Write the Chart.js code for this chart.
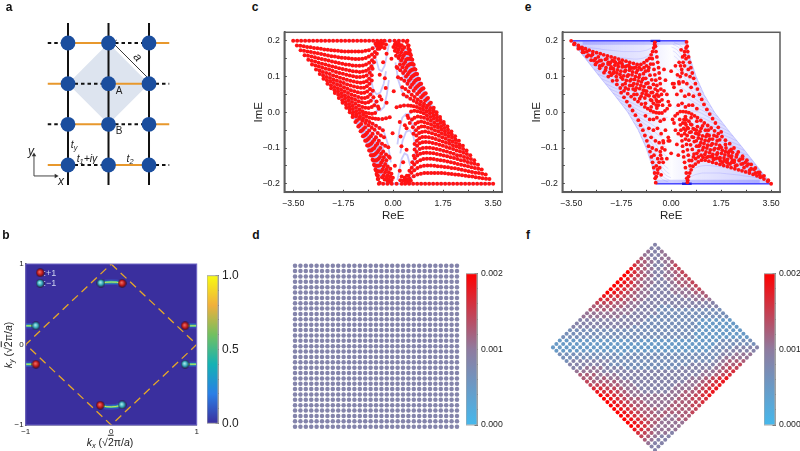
<!DOCTYPE html>
<html>
<head>
<meta charset="utf-8">
<title>Lattice spectra</title>
<script src="https://cdn.jsdelivr.net/npm/chart.js@4"></script>
<style>
  html, body { margin: 0; background: #fff; width: 800px; height: 451px; overflow: hidden; }
  #fig { position: relative; width: 800px; height: 451px; overflow: hidden; font-family: "Liberation Sans", Arial, sans-serif; color: #222; }
  #fig canvas { position: absolute; }
  .note { position: absolute; transform: translate(-50%, -50%); white-space: nowrap; line-height: 1; }
  .note sub { font-size: 70%; vertical-align: baseline; position: relative; top: 0.25em; }
  .tag { font-weight: bold; font-size: 12px; color: #111; }
  .root { text-decoration: overline; }
  i { font-style: italic; }
</style>
</head>
<body>
<div id="fig"></div>
<script>
// Panel a: lattice units
const latticeColumns = [0, 1, 2];
const latticeRows = [0, 1, 2, 3];
const verticalBondEnds = [-0.49, 3.49];
const orangeBonds = [[-0.5, 0, 0], [1, 2, 0], [0, 1, 1], [2, 2.5, 1], [-0.5, 0, 2], [1, 2, 2], [0, 1, 3], [2, 2.5, 3]];
const dashedBonds = [[0, 1, 0], [2, 2.5, 0], [-0.5, 0, 1], [1, 2, 1], [0, 1, 2], [2, 2.5, 2], [-0.5, 0, 3], [1, 2, 3]];
const cellCornersX = [1, 2, 1, 0, 1];
const cellCornersY = [3, 2, 1, 2, 3];

// Panel b
const bTicks = [-1, 0, 1];
const bTickLabels = ['\u22121', '0', '1'];
const bzX = [0, 1, 0, -1, 0];
const bzY = [1, 0, -1, 0, 1];
const arcs = [
  [-0.12, 0.763, -0.06, 0.773, 0, 0.776, 0.06, 0.774, 0.128, 0.76],
  [-0.128, -0.755, -0.06, -0.772, 0, -0.775, 0.06, -0.77, 0.128, -0.751],
  [-1, 0.232, -0.94, 0.232, -0.88, 0.232],
  [-1, -0.245, -0.94, -0.245, -0.88, -0.245],
  [0.864, 0.232, 0.93, 0.232, 1, 0.232],
  [0.864, -0.245, 0.93, -0.245, 1, -0.245]
];
const plusCharges = [-0.83, 0.892, 0.128, 0.76, -0.128, -0.755, -0.88, -0.245, 0.864, 0.232];
const minusCharges = [-0.83, 0.76, -0.12, 0.763, 0.128, -0.751, -0.88, 0.232, 0.864, -0.245];
const bBarTicks = [0, 0.1, 0.2, 0.3, 0.4, 0.5, 0.6, 0.7, 0.8, 0.9, 1];
const bBarLabels = ['0.0', '', '', '', '', '0.5', '', '', '', '', '1.0'];

// Panels c and e axes
const reTicks = [-3.5, -2.625, -1.75, -0.875, 0, 0.875, 1.75, 2.625, 3.5];
const reLabels = ['\u22123.50', '', '\u22121.75', '', '0.00', '', '1.75', '', '3.50'];
const imTicks = [-0.2, -0.15, -0.1, -0.05, 0, 0.05, 0.1, 0.15, 0.2];
const imLabels = ['\u22120.2', '', '\u22120.1', '', '0.0', '', '0.1', '', '0.2'];

// Panel c: ReE, ImE pairs along each band of the spectrum
const bandsUpper = [
  [-3.5,.2,-3.36,.2,-3.22,.2,-3.08,.2,-2.94,.2,-2.8,.2,-2.66,.2,-2.52,.2,-2.38,.2,-2.24,.2,-2.1,.2,-1.96,.2,-1.82,.2,-1.68,.2,-1.54,.2,-1.4,.2,-1.26,.2,-1.12,.2,-.98,.2,-.84,.2,-.7,.2,-.56,.2,-.42,.2,-.3,.2,-.12,.2,.05,.2,.2,.2,.35,.2,.5,.2],
  [-3.37,.187,-3.25,.186,-3.13,.185,-3.01,.183,-2.89,.182,-2.77,.18,-2.65,.179,-2.53,.178,-2.41,.176,-2.29,.175,-2.17,.174,-2.05,.173,-1.93,.172,-1.81,.171,-1.69,.17,-1.57,.17,-1.45,.17,-1.33,.17,-1.21,.17,-1.09,.17,-.97,.172,-.85,.174,-.72,.179,-.58,.186,-.45,.192],
  [-3.24,.174,-3.12,.172,-3,.17,-2.88,.169,-2.76,.167,-2.64,.165,-2.52,.163,-2.4,.161,-2.28,.159,-2.16,.157,-2.04,.156,-1.92,.154,-1.8,.153,-1.68,.152,-1.56,.151,-1.44,.15,-1.32,.149,-1.2,.149,-1.08,.15,-.96,.152,-.85,.156,-.74,.162,-.64,.169,-.54,.178,-.44,.188],
  [-3.1,.16,-2.98,.158,-2.86,.156,-2.74,.154,-2.62,.151,-2.5,.149,-2.38,.147,-2.26,.145,-2.14,.142,-2.02,.14,-1.9,.138,-1.78,.136,-1.66,.134,-1.54,.133,-1.42,.131,-1.3,.13,-1.18,.13,-1.06,.131,-.95,.134,-.84,.139,-.74,.146,-.65,.155,-.57,.164],
  [-2.97,.147,-2.85,.144,-2.73,.142,-2.61,.139,-2.49,.136,-2.37,.134,-2.25,.131,-2.13,.128,-2.01,.126,-1.89,.123,-1.77,.121,-1.65,.119,-1.53,.117,-1.41,.115,-1.29,.114,-1.17,.113,-1.06,.114,-.95,.116,-.85,.121,-.76,.129,-.67,.14],
  [-2.84,.134,-2.72,.131,-2.6,.128,-2.48,.125,-2.36,.122,-2.24,.12,-2.12,.116,-2,.113,-1.88,.11,-1.76,.108,-1.64,.105,-1.52,.103,-1.4,.101,-1.28,.099,-1.16,.099,-1.04,.1,-.93,.103,-.82,.111,-.72,.122],
  [-2.7,.12,-2.58,.117,-2.46,.113,-2.34,.11,-2.22,.107,-2.1,.103,-1.98,.1,-1.86,.097,-1.74,.094,-1.62,.091,-1.5,.088,-1.38,.086,-1.26,.084,-1.14,.083,-1.03,.084,-.93,.087,-.84,.094,-.75,.104],
  [-2.57,.107,-2.45,.103,-2.33,.099,-2.21,.096,-2.09,.092,-1.97,.088,-1.85,.085,-1.73,.082,-1.61,.078,-1.49,.075,-1.37,.072,-1.25,.07,-1.13,.069,-1.02,.069,-.92,.073,-.83,.08,-.75,.089],
  [-2.44,.094,-2.32,.09,-2.2,.086,-2.08,.082,-1.96,.078,-1.84,.074,-1.72,.07,-1.6,.066,-1.48,.062,-1.36,.059,-1.24,.056,-1.12,.054,-1.01,.055,-.91,.058,-.81,.065],
  [-2.3,.08,-2.18,.076,-2.06,.071,-1.94,.067,-1.82,.063,-1.7,.059,-1.58,.054,-1.46,.05,-1.34,.046,-1.22,.043,-1.1,.04,-.99,.04,-.89,.043,-.8,.05,-.71,.06],
  [-2.17,.067,-2.05,.062,-1.93,.058,-1.81,.053,-1.69,.048,-1.57,.043,-1.45,.039,-1.33,.035,-1.21,.031,-1.09,.028,-.98,.026,-.87,.028,-.78,.032,-.69,.042],
  [-2.04,.054,-1.92,.049,-1.8,.044,-1.68,.039,-1.56,.034,-1.44,.029,-1.32,.024,-1.2,.019,-1.08,.015,-.97,.013,-.86,.012,-.75,.015,-.66,.02,-.58,.03],
  [-1.9,.04,-1.78,.034,-1.66,.029,-1.54,.023,-1.42,.018,-1.3,.013,-1.18,.008,-1.07,.003,-.96,-.001,-.85,-.003,-.74,-.004,-.63,-.002,-.5,.01],
  [-1.77,.027,-1.65,.021,-1.53,.015,-1.41,.009,-1.29,.003,-1.17,-.002,-1.05,-.007,-.94,-.011,-.83,-.015,-.72,-.017,-.62,-.018,-.52,-.019,-.38,-.019,-.25,-.017,-.12,-.014],
  [-1.64,.013,-1.52,.007,-1.4,0,-1.28,-.006,-1.16,-.012,-1.05,-.017,-.94,-.022,-.83,-.027,-.72,-.032,-.6,-.038,-.48,-.044,-.36,-.05],
  [-1.52,0,-1.41,-.006,-1.3,-.012,-1.19,-.018,-1.08,-.024,-.97,-.03,-.86,-.036,-.75,-.043,-.65,-.049,-.54,-.058,-.43,-.065,-.32,-.07],
  [-1.42,-.013,-1.27,-.023,-1.12,-.033,-.98,-.042,-.84,-.051,-.72,-.06,-.6,-.07,-.5,-.08,-.39,-.088,-.28,-.094,-.17,-.098],
  [-1.32,-.027,-1.18,-.037,-1.04,-.047,-.91,-.057,-.78,-.067,-.66,-.077,-.55,-.088,-.45,-.1,-.35,-.11,-.25,-.118,-.15,-.124],
  [-1.22,-.04,-1.09,-.051,-.96,-.062,-.84,-.072,-.72,-.083,-.61,-.094,-.51,-.106,-.42,-.116,-.33,-.126,-.24,-.134],
  [-1.14,-.053,-1.01,-.065,-.89,-.076,-.77,-.088,-.66,-.1,-.56,-.112,-.46,-.125,-.37,-.135,-.28,-.145,-.19,-.152,-.1,-.158],
  [-1.06,-.067,-.94,-.079,-.82,-.091,-.71,-.103,-.61,-.116,-.51,-.13,-.42,-.141,-.33,-.152,-.24,-.16,-.15,-.168,-.06,-.172],
  [-.98,-.08,-.87,-.093,-.76,-.106,-.66,-.119,-.56,-.133,-.46,-.148,-.37,-.16,-.28,-.168,-.19,-.176,-.1,-.18,-.01,-.183],
  [-.91,-.093,-.8,-.107,-.7,-.12,-.6,-.135,-.51,-.15,-.42,-.166,-.33,-.176,-.24,-.183,-.15,-.187,-.06,-.19],
  [-.84,-.107,-.74,-.121,-.65,-.135,-.56,-.15,-.47,-.166,-.39,-.182,-.3,-.188,-.2,-.192,-.1,-.195],
  [-.78,-.12,-.69,-.135,-.6,-.15,-.52,-.165],
  [-.72,-.133,-.64,-.149,-.56,-.165],
  [-.67,-.147,-.6,-.163,-.53,-.178],
  [-.62,-.16,-.56,-.176],
  [-.58,-.173,-.52,-.187],
  [-.54,-.187,-.47,-.197]
];
const bandsLower = [
  [3.5,-.2,3.36,-.2,3.22,-.2,3.08,-.2,2.94,-.2,2.8,-.2,2.66,-.2,2.52,-.2,2.38,-.2,2.24,-.2,2.1,-.2,1.96,-.2,1.82,-.2,1.68,-.2,1.54,-.2,1.4,-.2,1.26,-.2,1.12,-.2,.98,-.2,.84,-.2,.7,-.2,.56,-.2,.42,-.2,.3,-.2,.12,-.2,-.05,-.2,-.2,-.2,-.35,-.2,-.5,-.2],
  [3.37,-.187,3.25,-.186,3.13,-.185,3.01,-.183,2.89,-.182,2.77,-.18,2.65,-.179,2.53,-.178,2.41,-.176,2.29,-.175,2.17,-.174,2.05,-.173,1.93,-.172,1.81,-.171,1.69,-.17,1.57,-.17,1.45,-.17,1.33,-.17,1.21,-.17,1.09,-.17,.97,-.172,.85,-.174,.72,-.179,.58,-.186,.45,-.192],
  [3.24,-.174,3.12,-.172,3,-.17,2.88,-.169,2.76,-.167,2.64,-.165,2.52,-.163,2.4,-.161,2.28,-.159,2.16,-.157,2.04,-.156,1.92,-.154,1.8,-.153,1.68,-.152,1.56,-.151,1.44,-.15,1.32,-.149,1.2,-.149,1.08,-.15,.96,-.152,.85,-.156,.74,-.162,.64,-.169,.54,-.178,.44,-.188],
  [3.1,-.16,2.98,-.158,2.86,-.156,2.74,-.154,2.62,-.151,2.5,-.149,2.38,-.147,2.26,-.145,2.14,-.142,2.02,-.14,1.9,-.138,1.78,-.136,1.66,-.134,1.54,-.133,1.42,-.131,1.3,-.13,1.18,-.13,1.06,-.131,.95,-.134,.84,-.139,.74,-.146,.65,-.155,.57,-.164],
  [2.97,-.147,2.85,-.144,2.73,-.142,2.61,-.139,2.49,-.136,2.37,-.134,2.25,-.131,2.13,-.128,2.01,-.126,1.89,-.123,1.77,-.121,1.65,-.119,1.53,-.117,1.41,-.115,1.29,-.114,1.17,-.113,1.06,-.114,.95,-.116,.85,-.121,.76,-.129,.67,-.14],
  [2.84,-.134,2.72,-.131,2.6,-.128,2.48,-.125,2.36,-.122,2.24,-.12,2.12,-.116,2,-.113,1.88,-.11,1.76,-.108,1.64,-.105,1.52,-.103,1.4,-.101,1.28,-.099,1.16,-.099,1.04,-.1,.93,-.103,.82,-.111,.72,-.122],
  [2.7,-.12,2.58,-.117,2.46,-.113,2.34,-.11,2.22,-.107,2.1,-.103,1.98,-.1,1.86,-.097,1.74,-.094,1.62,-.091,1.5,-.088,1.38,-.086,1.26,-.084,1.14,-.083,1.03,-.084,.93,-.087,.84,-.094,.75,-.104],
  [2.57,-.107,2.45,-.103,2.33,-.099,2.21,-.096,2.09,-.092,1.97,-.088,1.85,-.085,1.73,-.082,1.61,-.078,1.49,-.075,1.37,-.072,1.25,-.07,1.13,-.069,1.02,-.069,.92,-.073,.83,-.08,.75,-.089],
  [2.44,-.094,2.32,-.09,2.2,-.086,2.08,-.082,1.96,-.078,1.84,-.074,1.72,-.07,1.6,-.066,1.48,-.062,1.36,-.059,1.24,-.056,1.12,-.054,1.01,-.055,.91,-.058,.81,-.065],
  [2.3,-.08,2.18,-.076,2.06,-.071,1.94,-.067,1.82,-.063,1.7,-.059,1.58,-.054,1.46,-.05,1.34,-.046,1.22,-.043,1.1,-.04,.99,-.04,.89,-.043,.8,-.05,.71,-.06],
  [2.17,-.067,2.05,-.062,1.93,-.058,1.81,-.053,1.69,-.048,1.57,-.043,1.45,-.039,1.33,-.035,1.21,-.031,1.09,-.028,.98,-.026,.87,-.028,.78,-.032,.69,-.042],
  [2.04,-.054,1.92,-.049,1.8,-.044,1.68,-.039,1.56,-.034,1.44,-.029,1.32,-.024,1.2,-.019,1.08,-.015,.97,-.013,.86,-.012,.75,-.015,.66,-.02,.58,-.03],
  [1.9,-.04,1.78,-.034,1.66,-.029,1.54,-.023,1.42,-.018,1.3,-.013,1.18,-.008,1.07,-.003,.96,.001,.85,.003,.74,.004,.63,.002,.5,-.01],
  [1.77,-.027,1.65,-.021,1.53,-.015,1.41,-.009,1.29,-.003,1.17,.002,1.05,.007,.94,.011,.83,.015,.72,.017,.62,.018,.52,.019,.38,.019,.25,.017,.12,.014],
  [1.64,-.013,1.52,-.007,1.4,0,1.28,.006,1.16,.012,1.05,.017,.94,.022,.83,.027,.72,.032,.6,.038,.48,.044,.36,.05],
  [1.52,0,1.41,.006,1.3,.012,1.19,.018,1.08,.024,.97,.03,.86,.036,.75,.043,.65,.049,.54,.058,.43,.065,.32,.07],
  [1.42,.013,1.27,.023,1.12,.033,.98,.042,.84,.051,.72,.06,.6,.07,.5,.08,.39,.088,.28,.094,.17,.098],
  [1.32,.027,1.18,.037,1.04,.047,.91,.057,.78,.067,.66,.077,.55,.088,.45,.1,.35,.11,.25,.118,.15,.124],
  [1.22,.04,1.09,.051,.96,.062,.84,.072,.72,.083,.61,.094,.51,.106,.42,.116,.33,.126,.24,.134],
  [1.14,.053,1.01,.065,.89,.076,.77,.088,.66,.1,.56,.112,.46,.125,.37,.135,.28,.145,.19,.152,.1,.158],
  [1.06,.067,.94,.079,.82,.091,.71,.103,.61,.116,.51,.13,.42,.141,.33,.152,.24,.16,.15,.168,.06,.172],
  [.98,.08,.87,.093,.76,.106,.66,.119,.56,.133,.46,.148,.37,.16,.28,.168,.19,.176,.1,.18,.01,.183],
  [.91,.093,.8,.107,.7,.12,.6,.135,.51,.15,.42,.166,.33,.176,.24,.183,.15,.187,.06,.19],
  [.84,.107,.74,.121,.65,.135,.56,.15,.47,.166,.39,.182,.3,.188,.2,.192,.1,.195],
  [.78,.12,.69,.135,.6,.15,.52,.165],
  [.72,.133,.64,.149,.56,.165],
  [.67,.147,.6,.163,.53,.178],
  [.62,.16,.56,.176],
  [.58,.173,.52,.187],
  [.54,.187,.47,.197]
];
const cCentreDots = [-.23,.164,-.06,.15,.12,.127,-.35,.14,-.29,.095,-.47,.105,-.26,.068,.02,.059,-.41,.036,-.23,.027,-.53,.016,-.47,.045,
  -.62,.192,-.55,.195,-.5,.188,-.45,.197,-.4,.183,-.35,.192,-.48,.178,-.3,.18,-.25,.19,
  .23,-.164,.06,-.15,-.12,-.127,.35,-.14,.29,-.095,.47,-.105,.26,-.068,-.02,-.059,.41,-.036,.23,-.027,.53,-.016,.47,-.045,
  .62,-.192,.55,-.195,.5,-.188,.45,-.197,.4,-.183,.35,-.192,.48,-.178,.3,-.18,.25,-.19];
const cPaleArcs = [
  [-.8,.1,-.7,.065,-.58,.05,-.45,.055,-.33,.08,-.25,.115],
  [-.75,.06,-.6,.015,-.45,.005,-.32,.015,-.22,.05,-.15,.09],
  [-.6,.15,-.5,.12,-.4,.115,-.3,.13,-.22,.16,-.15,.19],
  [-.5,-.08,-.36,-.1,-.24,-.13,-.14,-.17],
  [-.45,-.04,-.3,-.06,-.18,-.09,-.08,-.14],
  [.8,-.1,.7,-.065,.58,-.05,.45,-.055,.33,-.08,.25,-.115],
  [.75,-.06,.6,-.015,.45,-.005,.32,-.015,.22,-.05,.15,-.09],
  [.6,-.15,.5,-.12,.4,-.115,.3,-.13,.22,-.16,.15,-.19],
  [.5,.08,.36,.1,.24,.13,.14,.17],
  [.45,.04,.3,.06,.18,.09,.08,.14]
];

// Panel e: hull of the blue spectrum and the red eigenvalues
const hullReE = [-3.5,.525,.67,.875,1.15,1.52,2,2.51,3,3.5,-.525,-.67,-.875,-1.15,-1.52,-2,-2.51,-3,-3.5];
const hullImE = [.2,.2,.15,.1,.05,0,-.05,-.1,-.15,-.2,-.2,-.15,-.1,-.05,0,.05,.1,.15,.2];
const eRedUpper = [
  -3.5,.2,-3.38,.193,-3.25,.187,-3.12,.182,-3,.178,-2.87,.174,-2.74,.17,-2.61,.167,-2.48,.164,-2.36,.161,-2.23,.158,-2.1,.155,-1.97,.152,-1.84,.149,-1.71,.146,-1.58,.143,-1.45,.14,-1.32,.137,-1.19,.134,-1.06,.134,-.95,.139,-.85,.145,-.76,.151,-.7,.161,-.65,.17,-.61,.18,-.58,.19,-.57,.196,
  -3.4,.19,-3.25,.178,-3.1,.168,-2.95,.156,-2.8,.146,-2.65,.134,-2.5,.123,-2.35,.111,-2.2,.1,-2.05,.088,-1.9,.078,-1.78,.068,-1.65,.06,-1.52,.052,-1.4,.044,-1.28,.037,-1.16,.03,-1.04,.023,-.92,.015,-.82,.01,-.72,.005,-.62,.001,-.52,-.001,-.42,-.002,-.32,-.002,-.22,.004,-.14,.01,
  -3.1,.175,-2.9,.16,-2.7,.145,-2.5,.13,-2.3,.118,-2.1,.104,-1.9,.09,-1.7,.077,-1.5,.065,-1.3,.05,-1.1,.038,-.9,.025,-.7,.015,-.5,.012,
  -1.75,.055,-1.65,.042,-1.55,.03,-1.45,.018,-1.35,.005,-1.25,-.008,-1.15,-.022,-1.07,-.036,-.99,-.05,-.92,-.065,-.85,-.08,-.79,-.095,-.74,-.11,-.69,-.125,-.65,-.14,-.61,-.155,-.58,-.17,-.56,-.185,-.54,-.197,
  -.55,.185,-.53,.17,-.5,.155,-.47,.14,-.44,.125,-.42,.11,-.4,.095,-.38,.08,-.36,.065,-.34,.05,-.32,.035,-.3,.02,
  -.66,.15,-.63,.135,-.6,.12,-.57,.105,-.54,.09,-.5,.075,-.47,.06,-.44,.045,-.41,.03,
  -2.51,.144,-2.42,.131,-2.3,.148,-2.21,.135,-2.12,.122,-2.03,.109,-2.06,.145,-1.97,.132,-1.88,.119,-1.79,.106,-1.7,.093,-1.61,.08,
  -1.8,.14,-1.71,.127,-1.62,.114,-1.53,.101,-1.44,.088,-1.35,.075,-1.26,.062,-1.55,.13,-1.46,.118,-1.37,.105,-1.28,.092,-1.19,.079,-1.1,.066,-1.01,.053,-.92,.04,
  -1.3,.124,-1.22,.111,-1.13,.098,-1.04,.085,-.95,.072,-.86,.059,-.77,.046,-.68,.033,-1.05,.12,-.97,.108,-.89,.095,-.81,.082,-.73,.069,-.65,.056,-.57,.043,-.49,.03,
  -.86,.13,-.8,.117,-.74,.104,-.68,.091,-.62,.078,-.56,.065,-.5,.05,-2.2,.14,-2.1,.127,-2,.114,-1.92,.1,-1.95,.14,-1.85,.128,-1.76,.115,-1.66,.102,-1.57,.089,
  -1.7,.13,-1.6,.118,-1.5,.105,-1.4,.092,-1.31,.08,-1.22,.068,-1.45,.125,-1.35,.113,-1.25,.1,-1.15,.088,-1.06,.075,-.97,.062,-.88,.05,-1.18,.118,-1.1,.105,-1,.092,
  -3.2,.18,-3.05,.168,-2.95,.17,-2.8,.158,-2.75,.162,-2.65,.15,-2.55,.155,-2.45,.145,-2.38,.135,-2.28,.125,-2.15,.112,-2.6,.14,
  -2.15,.135,-2.02,.122,-1.9,.11,-1.75,.098,-1.6,.068,-1.45,.075,-1.33,.065,-1.2,.05,-1.05,.045,-2.25,.15,-2.12,.14,-1.98,.142,-1.86,.135,-1.72,.136,-1.6,.128,-1.48,.132,-1.38,.124,-1.25,.126,-1.12,.126,-.95,.125,-.9,.115,-.78,.125,-.72,.135,
  -.97,.095,-.88,.08,-.78,.07,-.7,.055,-.6,.045,-.52,.035,-.45,.02,-.92,.06,-.82,.048,-.72,.035,-.62,.025,-.52,.02,
  -.9,-.01,-.75,-.02,-.62,-.02,-.5,-.015,-.38,-.025,-.25,-.02,-.78,-.045,-.62,-.05,-.48,-.045,-.35,-.06,-.2,-.05,-.7,-.07,-.55,-.08,-.42,-.085,-.28,-.08,-.66,-.1,-.52,-.105,-.38,-.11,-.22,-.105,-.6,-.12,-.47,-.13,-.33,-.13,-.52,-.15,-.4,-.155,-.28,-.14,-.47,-.17,-.35,-.175,-.15,-.13,-.1,-.08,
  -.52,-.18,-.47,-.16,-.42,-.14,-.37,-.12,-.32,-.1,-.27,-.085,
  -.25,.12,-.2,.09,-.25,.06,-.15,.05,-.1,.03,-.05,.02,.05,.08,.1,.07,0,.115
];
const eRedLower = [
  3.5,-.2,3.38,-.193,3.25,-.187,3.12,-.182,3,-.178,2.87,-.174,2.74,-.17,2.61,-.167,2.48,-.164,2.36,-.161,2.23,-.158,2.1,-.155,1.97,-.152,1.84,-.149,1.71,-.146,1.58,-.143,1.45,-.14,1.32,-.137,1.19,-.134,1.06,-.134,.95,-.139,.85,-.145,.76,-.151,.7,-.161,.65,-.17,.61,-.18,.58,-.19,.57,-.196,
  3.4,-.19,3.25,-.178,3.1,-.168,2.95,-.156,2.8,-.146,2.65,-.134,2.5,-.123,2.35,-.111,2.2,-.1,2.05,-.088,1.9,-.078,1.78,-.068,1.65,-.06,1.52,-.052,1.4,-.044,1.28,-.037,1.16,-.03,1.04,-.023,.92,-.015,.82,-.01,.72,-.005,.62,-.001,.52,.001,.42,.002,.32,.002,.22,-.004,.14,-.01,
  3.1,-.175,2.9,-.16,2.7,-.145,2.5,-.13,2.3,-.118,2.1,-.104,1.9,-.09,1.7,-.077,1.5,-.065,1.3,-.05,1.1,-.038,.9,-.025,.7,-.015,.5,-.012,
  1.75,-.055,1.65,-.042,1.55,-.03,1.45,-.018,1.35,-.005,1.25,.008,1.15,.022,1.07,.036,.99,.05,.92,.065,.85,.08,.79,.095,.74,.11,.69,.125,.65,.14,.61,.155,.58,.17,.56,.185,.54,.197,
  .55,-.185,.53,-.17,.5,-.155,.47,-.14,.44,-.125,.42,-.11,.4,-.095,.38,-.08,.36,-.065,.34,-.05,.32,-.035,.3,-.02,
  .66,-.15,.63,-.135,.6,-.12,.57,-.105,.54,-.09,.5,-.075,.47,-.06,.44,-.045,.41,-.03,
  2.51,-.144,2.42,-.131,2.3,-.148,2.21,-.135,2.12,-.122,2.03,-.109,2.06,-.145,1.97,-.132,1.88,-.119,1.79,-.106,1.7,-.093,1.61,-.08,
  1.8,-.14,1.71,-.127,1.62,-.114,1.53,-.101,1.44,-.088,1.35,-.075,1.26,-.062,1.55,-.13,1.46,-.118,1.37,-.105,1.28,-.092,1.19,-.079,1.1,-.066,1.01,-.053,.92,-.04,
  1.3,-.124,1.22,-.111,1.13,-.098,1.04,-.085,.95,-.072,.86,-.059,.77,-.046,.68,-.033,1.05,-.12,.97,-.108,.89,-.095,.81,-.082,.73,-.069,.65,-.056,.57,-.043,.49,-.03,
  .86,-.13,.8,-.117,.74,-.104,.68,-.091,.62,-.078,.56,-.065,.5,-.05,2.2,-.14,2.1,-.127,2,-.114,1.92,-.1,1.95,-.14,1.85,-.128,1.76,-.115,1.66,-.102,1.57,-.089,
  1.7,-.13,1.6,-.118,1.5,-.105,1.4,-.092,1.31,-.08,1.22,-.068,1.45,-.125,1.35,-.113,1.25,-.1,1.15,-.088,1.06,-.075,.97,-.062,.88,-.05,1.18,-.118,1.1,-.105,1,-.092,
  3.2,-.18,3.05,-.168,2.95,-.17,2.8,-.158,2.75,-.162,2.65,-.15,2.55,-.155,2.45,-.145,2.38,-.135,2.28,-.125,2.15,-.112,2.6,-.14,
  2.15,-.135,2.02,-.122,1.9,-.11,1.75,-.098,1.6,-.068,1.45,-.075,1.33,-.065,1.2,-.05,1.05,-.045,2.25,-.15,2.12,-.14,1.98,-.142,1.86,-.135,1.72,-.136,1.6,-.128,1.48,-.132,1.38,-.124,1.25,-.126,1.12,-.126,.95,-.125,.9,-.115,.78,-.125,.72,-.135,
  .97,-.095,.88,-.08,.78,-.07,.7,-.055,.6,-.045,.52,-.035,.45,-.02,.92,-.06,.82,-.048,.72,-.035,.62,-.025,.52,-.02,
  .9,.01,.75,.02,.62,.02,.5,.015,.38,.025,.25,.02,.78,.045,.62,.05,.48,.045,.35,.06,.2,.05,.7,.07,.55,.08,.42,.085,.28,.08,.66,.1,.52,.105,.38,.11,.22,.105,.6,.12,.47,.13,.33,.13,.52,.15,.4,.155,.28,.14,.47,.17,.35,.175,.15,.13,.1,.08,
  .52,.18,.47,.16,.42,.14,.37,.12,.32,.1,.27,.085,
  .25,-.12,.2,-.09,.25,-.06,.15,-.05,.1,-.03,.05,-.02,-.05,-.08,-.1,-.07,0,-.115
];

// Panels d and f: one site value per lattice site
const siteIndex = [0,1,2,3,4,5,6,7,8,9,10,11,12,13,14,15,16,17,18,19,20,21,22,23,24,25,26,27,28,29,30];
const dSiteValue = 0.00085;
const barTicks = [0, 0.0002, 0.0004, 0.0006, 0.0008, 0.001, 0.0012, 0.0014, 0.0016, 0.0018, 0.002];
const barLabels = ['0.000', '', '', '', '', '0.001', '', '', '', '', '0.002'];
// level n stands for a value of 0.0003 + n * 0.00019
const fSiteLevels = [
  '3344567899999998765544333222111',
  '3334556778888877655443332221111',
  '4334455667777766554433322211112',
  '4433445556666655544333222111122',
  '4433344455555554443332221111222',
  '5443334444454444433322211112233',
  '6544333344444443333222111122333',
  '6544333333333333332221111223334',
  '6554333333333333322211112233445',
  '6554433333333332222111122334455',
  '6554433322322222221111223344556',
  '6544333222222222221111222334456',
  '6544333222222222111122223345567',
  '6543332222222221111222233445678',
  '5443322222222211112222233455679',
  '5433222222222111122222333456789',
  '4332222222221111222223334456789',
  '3322222222211112222233334456789',
  '3222112222111122222333334456789',
  '2221111121111222223333334456789',
  '2211111111112222233333334556789',
  '2111111111122222333333344556789',
  '1111111111222233333333444556789',
  '1111111112223333333334444556789',
  '1111222222233333344444445556788',
  '1112222222333344444444444556777',
  '1122233333344444455555555555666',
  '1223334444445555555555544444555',
  '2233445555566666665555444444444',
  '2334455666777777666555544443333',
  '3344566778888887766655444333333'
];

const redDot = '#ff1414';

function pairs(flat) {
  const pts = [];
  for (let i = 0; i < flat.length; i += 2) pts.push({ x: flat[i], y: flat[i + 1] });
  return pts;
}

function joinBands(bands) {
  const pts = [];
  bands.forEach(b => {
    pts.push(...pairs(b));
    pts.push({ x: NaN, y: NaN });
  });
  return pts;
}

function zipXY(xs, ys) {
  return xs.map((x, i) => ({ x: x, y: ys[i] }));
}

function lineSet(data, color, width, extra) {
  return Object.assign({ data: data, showLine: true, pointRadius: 0, borderColor: color, borderWidth: width, spanGaps: false }, extra || {});
}

function mixRgb(a, b, t) {
  return a.map((v, i) => Math.round(v + (b[i] - v) * t));
}

function siteColor(v) {
  const low = [69, 184, 236], mid = [143, 123, 159], high = [255, 0, 0];
  const t = Math.min(v / 0.002, 1);
  const c = t < 0.5 ? mixRgb(low, mid, t * 2) : mixRgb(mid, high, (t - 0.5) * 2);
  return `rgb(${c[0]},${c[1]},${c[2]})`;
}

const framePlugin = {
  id: 'frame',
  afterDatasetsDraw(chart, args, opts) {
    if (!opts.color) return;
    const a = chart.chartArea, c = chart.ctx;
    c.save();
    c.strokeStyle = opts.color;
    c.lineWidth = opts.width || 1;
    c.strokeRect(a.left, a.top, a.right - a.left, a.bottom - a.top);
    c.restore();
  }
};

const plotFill = {
  id: 'plotFill',
  beforeDatasetsDraw(chart, args, opts) {
    if (!opts.color) return;
    const a = chart.chartArea;
    chart.ctx.save();
    chart.ctx.fillStyle = opts.color;
    chart.ctx.fillRect(a.left, a.top, a.right - a.left, a.bottom - a.top);
    chart.ctx.restore();
  }
};

function addCanvas(left, top, w, h) {
  const cv = document.createElement('canvas');
  cv.width = w;
  cv.height = h;
  cv.style.left = left + 'px';
  cv.style.top = top + 'px';
  document.getElementById('fig').appendChild(cv);
  return cv;
}

function note(html, x, y, css, cls) {
  const el = document.createElement('div');
  el.className = cls || 'note';
  if (cls) el.classList.add('note');
  el.innerHTML = html;
  el.style.left = x + 'px';
  el.style.top = y + 'px';
  if (css) el.style.cssText += css;
  document.getElementById('fig').appendChild(el);
}

function baseOptions(scales, padding, pluginOpts) {
  return {
    responsive: false,
    animation: false,
    layout: { padding: padding || 0, autoPadding: false },
    scales: scales,
    plugins: Object.assign({ legend: { display: false }, tooltip: { enabled: false } }, pluginOpts || {})
  };
}

function hiddenAxis(min, max, reverse) {
  return { type: 'linear', display: false, min: min, max: max, reverse: !!reverse };
}

function tickedAxis(min, max, ticks, labels, size, fontSize, pad, tickLen, title) {
  return {
    type: 'linear',
    min: min,
    max: max,
    afterBuildTicks: s => { s.ticks = ticks.map(v => ({ value: v })); },
    afterFit: s => {
      if (s.isHorizontal()) s.height = size; else s.width = size;
    },
    ticks: {
      autoSkip: false, maxRotation: 0, padding: pad, color: '#222',
      font: { family: 'Liberation Sans', size: fontSize },
      callback: (v, i) => labels[i]
    },
    grid: { drawOnChartArea: false, drawTicks: tickLen !== 0, tickLength: tickLen, tickColor: '#444', tickWidth: 1 },
    border: { color: '#555', width: 1.6 },
    title: title ? { display: true, text: title, color: '#222', padding: 2, font: { family: 'Liberation Sans', size: 11.5 } } : { display: false }
  };
}

function ballImage(inner, outer) {
  const cv = document.createElement('canvas');
  cv.width = 9;
  cv.height = 9;
  const c = cv.getContext('2d');
  const g = c.createRadialGradient(3.8, 3.6, 0.3, 4.5, 4.5, 4.4);
  g.addColorStop(0, inner);
  g.addColorStop(0.55, outer);
  g.addColorStop(1, 'rgba(40,10,30,0.85)');
  c.fillStyle = g;
  c.beginPath();
  c.arc(4.5, 4.5, 4.2, 0, Math.PI * 2);
  c.fill();
  return cv;
}

function drawLatticePanel() {
  const cv = addCanvas(0, 0, 200, 200);
  const nodes = [];
  latticeRows.forEach(r => latticeColumns.forEach(c => nodes.push({ x: c, y: r })));
  const bondLine = list => {
    const pts = [];
    list.forEach(b => pts.push({ x: b[0], y: b[2] }, { x: b[1], y: b[2] }, { x: NaN, y: NaN }));
    return pts;
  };
  const verticals = [];
  latticeColumns.forEach(c => verticals.push({ x: c, y: verticalBondEnds[0] }, { x: c, y: verticalBondEnds[1] }, { x: NaN, y: NaN }));
  new Chart(cv, {
    type: 'scatter',
    data: { datasets: [
      { data: nodes, pointRadius: 7.4, pointBackgroundColor: '#1b4e9e', pointBorderWidth: 0 },
      { data: pairs([-.296, -.27, -.84, .246]), pointStyle: 'triangle', pointRadius: 2.6, pointRotation: [90, 0], pointBackgroundColor: '#333', pointBorderWidth: 0 },
      { data: pairs([1.11, 3, 2.05, 2.065]), pointStyle: 'triangle', pointRadius: 2.6, pointRotation: [-45, 135], pointBackgroundColor: '#222', pointBorderWidth: 0 },
      lineSet(pairs([1.11, 3, 2.05, 2.065]), '#222', 0.9),
      lineSet(pairs([1.06, 2.95, 1.2, 3.07, NaN, NaN, 1.94, 1.97, 2.12, 2.11]), '#111', 1),
      lineSet(pairs([-.84, -.27, -.296, -.27, NaN, NaN, -.84, -.27, -.84, .246]), '#444', 1),
      lineSet(verticals, '#111', 2),
      lineSet(bondLine(orangeBonds), '#e8982c', 2),
      lineSet(bondLine(dashedBonds), '#111', 2, { borderDash: [3.5, 3] }),
      lineSet(zipXY(cellCornersX, cellCornersY), 'rgba(220,228,240,0.9)', 0, { fill: 'shape', backgroundColor: '#dde4ef' })
    ] },
    options: baseOptions({ x: hiddenAxis(-1.679, 3.259), y: hiddenAxis(-0.861, 4.057) })
  });
  const it = 'font-size:10.5px;font-style:italic;';
  note('A', 119, 91, 'font-size:10px;');
  note('B', 119, 131, 'font-size:10px;');
  note('<i>a</i>', 138, 57, 'font-size:12px;font-style:italic;transform:translate(-50%,-50%) rotate(50deg);');
  note('<i>t<sub>y</sub></i>', 74, 144, it);
  note('<i>t</i><sub>1</sub>+<i>i\u03b3</i>', 87, 158, it);
  note('<i>t</i><sub>2</sub>', 130, 158, it);
  note('<i>y</i>', 31, 151, 'font-size:12px;font-style:italic;');
  note('<i>x</i>', 61, 181, 'font-size:12px;font-style:italic;');
}

function drawWeylPanel() {
  const cv = addCanvas(0, 255, 205, 185);
  const arcPts = joinBands(arcs);
  new Chart(cv, {
    type: 'scatter',
    data: { datasets: [
      { data: pairs(plusCharges), pointStyle: ballImage('#f07068', '#c01818'), pointRadius: 4.5 },
      { data: pairs(minusCharges), pointStyle: ballImage('#b0f0f0', '#2aa0b4'), pointRadius: 4.5 },
      lineSet(zipXY(bzX, bzY), '#e6a828', 1.3, { borderDash: [8, 5] }),
      lineSet(arcPts, '#d2e25a', 1),
      lineSet(arcPts, '#28b8a0', 2.4),
      lineSet(arcPts, 'rgba(50,120,230,0.35)', 5.5)
    ] },
    options: baseOptions({
      x: tickedAxis(-1, 1, bTicks, bTickLabels, 15, 8, 2, 0),
      y: tickedAxis(-1, 1, bTicks, bTickLabels, 25.7, 8, 2, 0)
    }, { top: 9, right: 8.3 }, { plotFill: { color: '#3a2f9e' }, frame: { color: '#6f66c6', width: 1 } }),
    plugins: [plotFill, framePlugin]
  });
  note('<i>k<sub>x</sub></i> (\u221a<span class="root">2</span>\u03c0/<i>a</i>)', 110, 442, 'font-size:10.5px;');
  note('<i>k<sub>y</sub></i> (\u221a<span class="root">2</span>\u03c0/<i>a</i>)', 8, 345, 'font-size:10.5px;transform:translate(-50%,-50%) rotate(-90deg);');
  note(':+1', 50, 273, 'font-size:9px;color:#cdd2ee;');
  note(':\u22121', 50, 283, 'font-size:9px;color:#cdd2ee;');
}

function colorBar(left, ticks, labels, fontSize, pad, stops) {
  const cv = addCanvas(left, 262, 50, 175);
  new Chart(cv, {
    type: 'bar',
    data: { labels: [''], datasets: [{
      data: [[ticks[0], ticks[ticks.length - 1]]],
      barPercentage: 1,
      categoryPercentage: 1,
      backgroundColor: ctx => {
        const a = ctx.chart.chartArea;
        if (!a) return stops[0];
        const g = ctx.chart.ctx.createLinearGradient(0, a.bottom, 0, a.top);
        stops.forEach((s, i) => g.addColorStop(i / (stops.length - 1), s));
        return g;
      }
    }] },
    options: baseOptions({
      x: { display: false },
      y: Object.assign(tickedAxis(ticks[0], ticks[ticks.length - 1], ticks, labels, 39, fontSize, pad, -2.5), { position: 'right' })
    }, { top: 8, bottom: 12 }, { frame: { color: '#a9a9a9', width: 1 } }),
    plugins: [framePlugin]
  });
}

function spectrumPanel(left, datasets) {
  const cv = addCanvas(left, 20, 262, 205);
  const axes = { x: tickedAxis(-3.81, 3.81, reTicks, reLabels, 32.7, 8.8, 8, -2.5, 'ReE'), y: tickedAxis(-0.224, 0.224, imTicks, imLabels, 34.3, 8.8, 7, -2.5, 'ImE') };
  new Chart(cv, {
    type: 'scatter',
    data: { datasets: datasets },
    options: baseOptions(axes, { top: 8, right: 10 }, { frame: { color: '#5d5d5d', width: 1.5 } }),
    plugins: [framePlugin]
  });
}

function drawSpectra() {
  const bands = bandsUpper.concat(bandsLower);
  const bandPts = joinBands(bands);
  const redPts = bands.flatMap(pairs).concat(pairs(cCentreDots));
  spectrumPanel(250, [
    { data: redPts, pointRadius: 2, pointBackgroundColor: redDot, pointBorderWidth: 0 },
    lineSet(bandPts, 'rgba(150,150,250,0.6)', 2.4),
    lineSet(joinBands(cPaleArcs), 'rgba(180,180,250,0.7)', 1.8)
  ]);

  const hull = zipXY(hullReE, hullImE);
  spectrumPanel(527.7, [
    { data: pairs(eRedUpper).concat(pairs(eRedLower)), pointRadius: 1.9, pointBackgroundColor: redDot, pointBorderWidth: 0 },
    lineSet(pairs([-.72, .2, -.38, .2, NaN, NaN, .38, -.2, .72, -.2]), 'rgba(20,20,225,0.85)', 2.4),
    lineSet(pairs([-3.5, .2, .525, .2, NaN, NaN, -.525, -.2, 3.5, -.2]), '#4a4aff', 1.5),
    lineSet(pairs([-3.1, .194, .5, .194, NaN, NaN, -.5, -.194, 3.1, -.194]), 'rgba(70,70,255,0.25)', 3.5),
    lineSet(bandPts, 'rgba(90,90,255,0.28)', 0.6),
    lineSet(hull, 'rgba(80,80,255,0.3)', 0.8, {
      fill: 'shape',
      backgroundColor: ctx => {
        const a = ctx.chart.chartArea;
        if (!a) return 'rgba(70,70,255,0.15)';
        const g = ctx.chart.ctx.createLinearGradient(a.left, 0, a.right, 0);
        g.addColorStop(0.05, 'rgba(60,60,255,0.26)');
        g.addColorStop(0.38, 'rgba(60,60,255,0.12)');
        g.addColorStop(0.5, 'rgba(60,60,255,0.01)');
        g.addColorStop(0.62, 'rgba(60,60,255,0.12)');
        g.addColorStop(0.95, 'rgba(60,60,255,0.26)');
        return g;
      }
    })
  ]);
}

function drawSitePanels() {
  const dPts = [];
  siteIndex.forEach(r => siteIndex.forEach(c => dPts.push({ x: c, y: r })));
  new Chart(addCanvas(290, 260, 172, 172), {
    type: 'scatter',
    data: { datasets: [{ data: dPts, pointRadius: 2.25, pointBorderWidth: 0, pointBackgroundColor: siteColor(dSiteValue) }] },
    options: baseOptions({ x: hiddenAxis(-0.93, 30.93), y: hiddenAxis(-1.06, 30.99, true) })
  });

  const fPts = [], fColors = [];
  siteIndex.forEach(i => siteIndex.forEach(j => {
    fPts.push({ x: i - j, y: i + j - 30 });
    fColors.push(siteColor(0.0003 + Number(fSiteLevels[i][j]) * 0.00019));
  }));
  new Chart(addCanvas(543, 240, 224, 211), {
    type: 'scatter',
    data: { datasets: [{ data: fPts, pointRadius: 2.05, pointBorderWidth: 0, pointBackgroundColor: fColors, clip: false }] },
    options: baseOptions({ x: hiddenAxis(-32.94, 32.94), y: hiddenAxis(-31.4, 30.3, true) })
  });
}

document.addEventListener('DOMContentLoaded', () => {
  drawLatticePanel();
  drawWeylPanel();
  colorBar(207, bBarTicks, bBarLabels, 12, 6.5, ['#3a2f9e', '#2a7fe6', '#14b2b4', '#72c060', '#f0b03c', '#f8fa12']);
  drawSpectra();
  drawSitePanels();
  const blueRed = [siteColor(0), siteColor(0.0005), siteColor(0.001), siteColor(0.0015), siteColor(0.002)];
  colorBar(465.7, barTicks, barLabels, 8.7, 6.5, blueRed);
  colorBar(764.3, barTicks, barLabels, 8.7, 6.5, blueRed);

  note('a', 9, 7, '', 'tag');
  note('b', 6, 235, '', 'tag');
  note('c', 255, 7, '', 'tag');
  note('d', 256, 235, '', 'tag');
  note('e', 528, 7, '', 'tag');
  note('f', 528, 235, '', 'tag');
});
</script>
</body>
</html>
